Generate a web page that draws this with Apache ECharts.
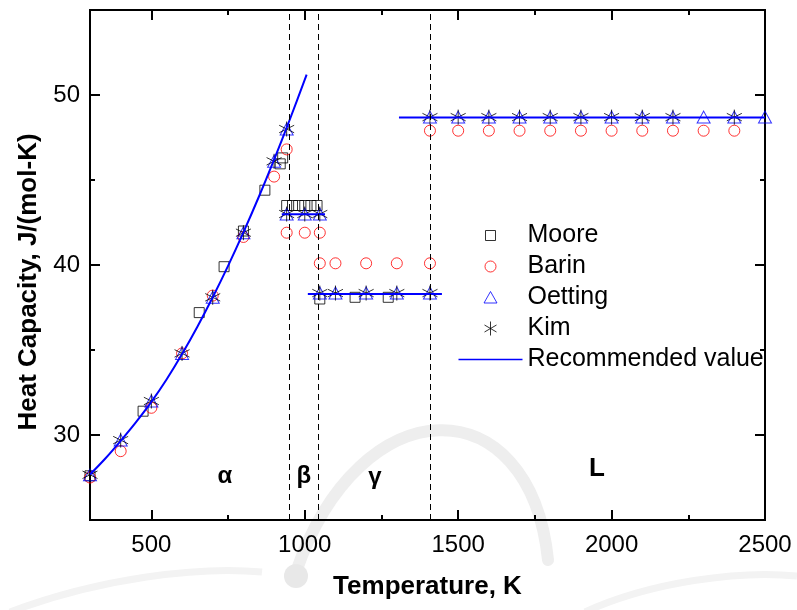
<!DOCTYPE html>
<html>
<head>
<meta charset="utf-8">
<script src="https://cdn.jsdelivr.net/npm/echarts@6/dist/echarts.min.js"></script>
<style>
  html, body { margin: 0; padding: 0; background: #fff; }
  #chart { width: 797px; height: 610px; }
</style>
</head>
<body>
<div id="chart"></div>
<script>
// Heat capacity of uranium: literature data and recommended curve, by phase.
const FONT = '"Liberation Sans", Arial, sans-serif';

// Moore
const mooreT  = [300, 473, 656, 737, 800, 870, 920, 928, 941, 960, 980, 1000, 1020, 1040, 1049, 1164, 1272];
const mooreCp = [27.6, 31.4, 37.2, 39.9, 42.0, 44.4, 45.95, 46.3, 43.5, 43.5, 43.5, 43.5, 43.5, 43.5, 38.0, 38.1, 38.1];

// Barin
const barinT  = [300, 400, 500, 600, 700, 800, 900, 941, 941, 1000, 1049, 1049, 1100, 1200, 1300, 1408,
                 1408, 1500, 1600, 1700, 1800, 1900, 2000, 2100, 2200, 2300, 2400];
const barinCp = [27.5, 29.05, 31.6, 34.8, 38.2, 41.65, 45.2, 46.8, 41.9, 41.9, 41.9, 40.1, 40.1, 40.1, 40.1, 40.1,
                 47.9, 47.9, 47.9, 47.9, 47.9, 47.9, 47.9, 47.9, 47.9, 47.9, 47.9];

// Oetting
const oettingT  = [300, 400, 500, 600, 700, 800, 900, 941, 941, 1000, 1049, 1049, 1100, 1200, 1300, 1408,
                   1408, 1500, 1600, 1700, 1800, 1900, 2000, 2100, 2200, 2300, 2400, 2500];
const oettingCp = [27.66, 29.7, 32.0, 34.8, 38.1, 41.9, 46.1, 48.0, 43.0, 43.0, 43.0, 38.35, 38.35, 38.35, 38.35, 38.35,
                   48.7, 48.7, 48.7, 48.7, 48.7, 48.7, 48.7, 48.7, 48.7, 48.7, 48.7, 48.7];

// Kim
const kimT  = [300, 400, 500, 600, 700, 800, 900, 941, 941, 1000, 1049, 1049, 1100, 1200, 1300, 1408,
               1408, 1500, 1600, 1700, 1800, 1900, 2000, 2100, 2200, 2400];
const kimCp = [27.66, 29.7, 32.0, 34.8, 38.1, 41.9, 46.1, 48.0, 43.0, 43.0, 43.0, 38.35, 38.35, 38.35, 38.35, 38.35,
               48.7, 48.7, 48.7, 48.7, 48.7, 48.7, 48.7, 48.7, 48.7, 48.7];

// Recommended value, one piece per phase
const recAlphaT  = [300, 350, 400, 450, 500, 550, 600, 650, 700, 750, 800, 850, 900, 950, 1000, 1006];
const recAlphaCp = [27.68, 28.62, 29.66, 30.76, 31.95, 33.28, 34.76, 36.37, 38.1, 39.95, 41.92, 44.0, 46.2, 48.5, 50.9, 51.2];
const recBetaT   = [925, 1066];
const recBetaCp  = [42.98, 42.98];
const recGammaT  = [1010, 1447];
const recGammaCp = [38.3, 38.3];
const recLiqT    = [1307, 2500];
const recLiqCp   = [48.68, 48.68];

// Phase transition temperatures (dashed lines)
const transitionsT = [950, 1045, 1408];

// Phase names and where they are written
const phaseNames = ['α', 'β', 'γ', 'L'];
const phaseT     = [740, 997, 1229, 1952];
const phaseCp    = [27.55, 27.55, 27.5, 28.0];
const phaseSize  = [24, 24, 24, 26];

// Axis ticks
const xMajor = [500, 1000, 1500, 2000, 2500];
const xMinor = [750, 1250, 1750, 2250];
const yMajor = [30, 40, 50];
const yMinor = [35, 45];

const zip = (a, b) => a.map((v, i) => [v, b[i]]);

const asterisk = 'path://M5 0L5 10M0.67 2.5L9.33 7.5M0.67 7.5L9.33 2.5';

// Legend icons share a 64x14 box so that marker icons keep their shape
const BOX = 'M0 0M64 14';
const legendIcons = {
  Moore: 'path://' + BOX + 'M27 2L37 2L37 12L27 12Z',
  Barin: 'path://' + BOX + 'M37.5 7A5.5 5.5 0 1 1 26.5 7A5.5 5.5 0 1 1 37.5 7Z',
  Oetting: 'path://' + BOX + 'M32 1L38.5 12.5L25.5 12.5Z',
  Kim: 'path://' + BOX + 'M32 0L32 14M26 3.5L38 10.5M26 10.5L38 3.5',
  'Recommended value': 'path://' + BOX + 'M0 6.25L64 6.25L64 7.75L0 7.75Z'
};

const chart = echarts.init(document.getElementById('chart'), null, { renderer: 'canvas' });

function xAx(pos, ticks, len, labels) {
  return {
    type: 'value', position: pos, min: 300, max: 2500,
    axisLine: { show: true, onZero: false, lineStyle: { color: '#000', width: 2 } },
    axisTick: { show: true, inside: true, length: len, customValues: ticks, lineStyle: { color: '#000', width: 2 } },
    axisLabel: labels ? { show: true, customValues: labels, formatter: v => String(v),
      color: '#000', fontSize: 24, fontFamily: FONT, margin: 13 } : { show: false },
    splitLine: { show: false }
  };
}
function yAx(pos, ticks, len, labels) {
  return {
    type: 'value', position: pos, min: 25, max: 55,
    axisLine: { show: true, onZero: false, lineStyle: { color: '#000', width: 2 } },
    axisTick: { show: true, inside: true, length: len, customValues: ticks, lineStyle: { color: '#000', width: 2 } },
    axisLabel: labels ? { show: true, customValues: labels, formatter: v => String(v),
      color: '#000', fontSize: 24, fontFamily: FONT, margin: 10 } : { show: false },
    splitLine: { show: false }
  };
}

const xAxes = [xAx('bottom', xMajor, 10, xMajor), xAx('bottom', xMinor, 5), xAx('top', xMajor, 10), xAx('top', xMinor, 5)];
Object.assign(xAxes[0], {
  name: 'Temperature, K', nameLocation: 'middle', nameGap: 54, nameMoveOverlap: false,
  nameTextStyle: { fontSize: 26, fontWeight: 'bold', fontFamily: FONT, color: '#000' }
});
const yAxes = [yAx('left', yMajor, 10, yMajor), yAx('left', yMinor, 5), yAx('right', yMajor, 10), yAx('right', yMinor, 5)];
Object.assign(yAxes[0], {
  name: 'Heat Capacity, J/(mol-K)', nameLocation: 'middle', nameGap: 48, nameMoveOverlap: false,
  nameTextStyle: { fontSize: 26, fontWeight: 'bold', fontFamily: FONT, color: '#000', padding: [0, 34, 0, 0] }
});

const recLine = (data, smooth, extra) => Object.assign({
  name: 'Recommended value', type: 'line', data: data, smooth: smooth,
  symbol: 'none', lineStyle: { color: '#0000ff', width: 2 }, itemStyle: { color: '#0000ff' },
  z: 3
}, extra || {});

const watermark = [
  { type: 'bezierCurve', z: -10, silent: true,
    shape: { x1: 296, y1: 572, cpx1: 360, cpy1: 385, x2: 548, y2: 560, cpx2: 530, cpy2: 385 },
    style: { stroke: '#eeeeee', lineWidth: 12, fill: null, lineCap: 'round' } },
  { type: 'circle', z: -10, silent: true, shape: { cx: 296, cy: 576, r: 12 }, style: { fill: '#e8e8e8' } },
  { type: 'bezierCurve', z: -10, silent: true,
    shape: { x1: 10, y1: 612, cpx1: 100, cpy1: 578, x2: 262, y2: 572, cpx2: 200, cpy2: 566 },
    style: { stroke: '#f3f3f3', lineWidth: 7, fill: null } },
  { type: 'bezierCurve', z: -10, silent: true,
    shape: { x1: 585, y1: 612, cpx1: 650, cpy1: 582, x2: 797, y2: 576, cpx2: 740, cpy2: 570 },
    style: { stroke: '#f3f3f3', lineWidth: 7, fill: null } }
];

const option = {
  animation: false,
  backgroundColor: '#fff',
  grid: { left: 90, right: 32, top: 10, bottom: 90, containLabel: false },
  xAxis: xAxes,
  yAxis: yAxes,
  legend: {
    data: ['Moore', 'Barin', 'Oetting', 'Kim', 'Recommended value'].map(n => ({ name: n, icon: legendIcons[n] })),
    orient: 'vertical', left: 458, top: 223, padding: 0,
    itemWidth: 64, itemHeight: 14, itemGap: 6, symbolKeepAspect: true,
    itemStyle: { borderWidth: 1 },
    textStyle: { fontSize: 25, fontFamily: FONT, color: '#000' },
    selectedMode: false
  },
  graphic: watermark,
  series: [
    { name: 'Moore', type: 'scatter', data: zip(mooreT, mooreCp), symbol: 'rect', symbolSize: 10,
      itemStyle: { color: 'rgba(0,0,0,0)', borderColor: '#000', borderWidth: 1 } },
    { name: 'Barin', type: 'scatter', data: zip(barinT, barinCp), symbol: 'circle', symbolSize: 11,
      itemStyle: { color: 'rgba(0,0,0,0)', borderColor: '#ff0000', borderWidth: 1 } },
    { name: 'Oetting', type: 'scatter', data: zip(oettingT, oettingCp), symbol: 'triangle', symbolSize: [13, 12],
      itemStyle: { color: 'rgba(0,0,0,0)', borderColor: '#0000ff', borderWidth: 1 } },
    { name: 'Kim', type: 'scatter', data: zip(kimT, kimCp), symbol: asterisk, symbolSize: 15,
      itemStyle: { color: 'rgba(0,0,0,0)', borderColor: '#000', borderWidth: 1 } },
    recLine(zip(recAlphaT, recAlphaCp), 0.35, {
      markLine: {
        silent: true, symbol: ['none', 'none'], label: { show: false },
        lineStyle: { color: '#000', width: 1, type: [6, 4] },
        data: transitionsT.map(t => ({ xAxis: t }))
      }
    }),
    recLine(zip(recBetaT, recBetaCp), false),
    recLine(zip(recGammaT, recGammaCp), false),
    recLine(zip(recLiqT, recLiqCp), false)
  ]
};

chart.setOption(option);

// Phase names, placed through the axes' scales
const phaseText = phaseNames.map((n, i) => {
  const p = chart.convertToPixel({ xAxisIndex: 0, yAxisIndex: 0 }, [phaseT[i], phaseCp[i]]);
  return {
    type: 'text', x: p[0], y: p[1], z: 50, silent: true,
    style: { text: n, fill: '#000', font: 'bold ' + phaseSize[i] + 'px ' + FONT, align: 'center', verticalAlign: 'middle' }
  };
});
chart.setOption({ graphic: watermark.concat(phaseText) });
</script>
</body>
</html>
